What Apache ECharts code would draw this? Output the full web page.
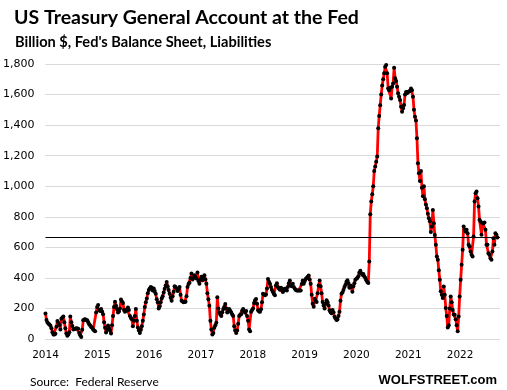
<!DOCTYPE html>
<html>
<head>
<meta charset="utf-8">
<script src="https://cdn.jsdelivr.net/npm/echarts@6/dist/echarts.min.js"></script>
<style>
html,body{margin:0;padding:0;background:#fff;}
#chart{width:507px;height:390px;}
</style>
</head>
<body>
<div id="chart"></div>
<script>
// Weekly TGA balance, billion $, starting first week of January 2014
var startYear = 2014;
var y2014 = [167,125,108,100,95,86,70,44,30,29,35,80,118,105,92,62,133,140,147,110,70,36,22,30,45,147,110,85,62,65,67,70,68,67,40,25,13,60,122,128,129,125,122,110,96,88,78,73,62,55,51,173];
var y2015 = [210,222,190,184,196,180,162,110,73,42,60,89,70,55,36,90,150,210,244,218,195,173,180,200,258,245,236,190,178,184,195,207,190,150,138,129,84,120,150,196,120,75,55,40,60,84,120,160,210,240,265,300];
var y2016 = [320,330,340,335,318,330,315,296,260,240,200,215,240,265,280,305,329,350,373,345,320,296,270,251,280,310,345,340,329,315,325,340,290,251,245,240,242,244,280,340,360,369,400,429,390,400,418,405,396,436,380,362];
var y2017 = [390,407,384,400,418,390,362,300,260,218,120,62,30,40,73,90,107,273,200,173,160,151,175,196,210,229,200,173,190,196,185,173,160,151,84,55,40,55,100,151,158,162,185,196,180,173,184,151,120,62,50,178];
var y2018 = [190,200,235,254,262,230,189,180,178,195,240,297,290,286,292,330,393,375,361,340,320,307,295,286,350,365,340,330,323,335,330,307,318,329,322,318,340,365,383,350,345,361,340,329,320,318,318,318,318,318,360,383];
var y2019 = [361,380,393,400,408,415,390,361,290,230,211,264,250,243,300,350,383,345,300,243,220,200,230,254,240,220,189,175,168,190,175,146,135,125,128,150,178,250,297,305,320,340,355,375,385,366,335,350,340,310,345,365];
var y2020 = [388,395,400,410,435,447,430,420,425,410,399,385,373,366,508,817,900,948,1000,1100,1129,1160,1194,1380,1460,1530,1600,1660,1700,1739,1782,1793,1739,1640,1629,1645,1575,1651,1673,1775,1706,1688,1651,1608,1585,1564,1520,1488,1510,1532,1600,1617];
var y2021 = [1608,1617,1620,1623,1640,1629,1586,1500,1455,1430,1314,1150,1085,1035,1100,990,935,1000,915,880,856,820,791,770,700,737,845,758,680,617,540,519,450,388,312,290,268,344,290,203,150,75,90,200,279,240,190,160,159,130,90,50];
var y2022 = [148,279,388,486,584,737,715,704,715,693,617,606,573,551,540,671,900,954,965,922,867,780,769,682,758,758,763,715,617,617,562,551,529,519,573,660,617,693,682,665];
var yearTicks = [2014,2015,2016,2017,2018,2019,2020,2021,2022];
var yTicks = [0,200,400,600,800,1000,1200,1400,1600,1800];

var values = [].concat(y2014,y2015,y2016,y2017,y2018,y2019,y2020,y2021,y2022);
var latest = values[values.length-1];
var seriesData = values.map(function(v,i){ return [startYear + i*7/365.25, v]; });

var chart = echarts.init(document.getElementById('chart'), null, {renderer:'canvas'});
chart.setOption({
  animation:false,
  backgroundColor:'#fff',
  title:[
    {text:'US Treasury General Account at the Fed', left:9, top:3,
     textStyle:{fontFamily:'Lato', fontWeight:'bold', fontSize:19.5, color:'#000'}},
    {text:"Billion $, Fed's Balance Sheet, Liabilities", left:10, top:30,
     textStyle:{fontFamily:'Lato', fontWeight:'bold', fontSize:14.6, color:'#000'}},
    {text:'Source:  Federal Reserve', left:25, top:371,
     textStyle:{fontFamily:'Lato', fontWeight:'normal', fontSize:12, color:'#000'}},
    {text:'WOLFSTREET.com', right:5, top:369,
     textStyle:{fontFamily:'Liberation Sans', fontWeight:'bold', fontSize:13, color:'#000'}}
  ],
  grid:{left:43, right:7, top:64, bottom:51, containLabel:false},
  xAxis:{
    type:'value', min:yearTicks[0], max:2022.77, interval:1,
    axisLine:{show:false}, axisTick:{show:false}, splitLine:{show:false},
    axisLabel:{show:true, margin:11, color:'#000', fontFamily:'DejaVu Sans', fontSize:10.5,
      showMaxLabel:false,
      formatter:function(v){ return yearTicks.indexOf(Math.round(v))>=0 && Math.abs(v-Math.round(v))<1e-6 ? String(Math.round(v)) : ''; }}
  },
  yAxis:{
    type:'value', min:yTicks[0], max:yTicks[yTicks.length-1], interval:200,
    axisLine:{show:false}, axisTick:{show:false},
    splitLine:{show:true, lineStyle:{color:'#d9d9d9', width:1}},
    axisLabel:{margin:11, color:'#000', fontFamily:'DejaVu Sans', fontSize:11}
  },
  series:[{
    type:'line', data:seriesData, showAllSymbol:true, symbol:'circle', symbolSize:4,
    itemStyle:{color:'#000'}, lineStyle:{color:'#ff0000', width:2.8},
    z:3,
    markLine:{symbol:'none', silent:true, label:{show:false},
      lineStyle:{color:'#000', width:1.2, type:'solid'},
      data:[{yAxis:latest}]}
  }]
});
</script>
</body>
</html>
